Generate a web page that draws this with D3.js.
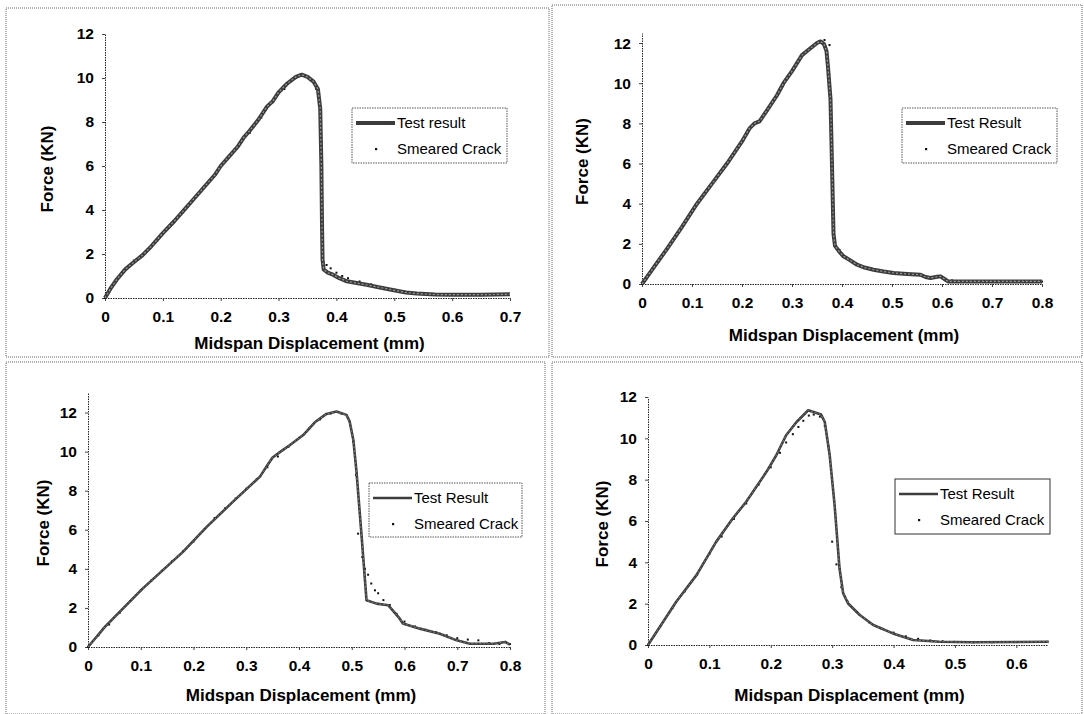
<!DOCTYPE html>
<html>
<head>
  <title>Force vs Midspan Displacement</title>
  <script src="https://cdnjs.cloudflare.com/ajax/libs/d3/7.8.5/d3.min.js"></script>
  <style>
    body {
        margin: 0;
        background: #ffffff;
        font-family: "Liberation Sans", Arial, sans-serif;
    }
    svg { display: block; }
    .tick text { font-weight: bold; font-size: 15.5px; fill: #000; }
    .axis-title { font-weight: bold; font-size: 17px; fill: #000; }
    .legend-text { font-size: 15px; fill: #000; }
  </style>
</head>
<body>
<div id="chart"></div>
<script>
// ---------------------------------------------------------------
// Data: [displacement (mm), force (KN)]
var test1 = [[0,0],[0.01,0.45],[0.02,0.83],[0.035,1.3],[0.048,1.59],[0.065,1.95],[0.08,2.35],
    [0.1,2.95],[0.12,3.5],[0.135,3.95],[0.15,4.4],[0.17,5.0],[0.19,5.6],[0.2,6.0],[0.215,6.45],
    [0.23,6.9],[0.24,7.3],[0.25,7.6],[0.265,8.1],[0.28,8.7],[0.29,8.95],[0.3,9.35],[0.315,9.75],
    [0.33,10.05],[0.34,10.15],[0.35,10.05],[0.36,9.85],[0.368,9.5],[0.372,8.6],[0.374,6.0],
    [0.375,3.5],[0.376,1.75],[0.378,1.3],[0.385,1.15],[0.394,1.06],[0.405,0.9],[0.418,0.76],
    [0.435,0.68],[0.452,0.6],[0.475,0.48],[0.504,0.33],[0.52,0.25],[0.539,0.2],[0.57,0.16],
    [0.596,0.15],[0.65,0.15],[0.7,0.17]];
var crack1 = [[0,0],[0.01,0.4],[0.02,0.8],[0.03,1.15],[0.04,1.45],[0.05,1.7],[0.07,2.1],[0.09,2.6],
    [0.11,3.2],[0.13,3.8],[0.15,4.4],[0.17,5.0],[0.19,5.6],[0.21,6.3],[0.23,6.9],[0.25,7.5],
    [0.27,8.2],[0.29,8.9],[0.31,9.5],[0.33,10.0],[0.345,10.1],[0.355,9.9],[0.365,9.5],[0.372,8.0],
    [0.374,5.0],[0.376,2.0],[0.383,1.5],[0.39,1.35],[0.40,1.15],[0.41,1.0],[0.42,0.9],[0.44,0.75],
    [0.46,0.62],[0.48,0.5],[0.50,0.38],[0.52,0.28],[0.54,0.22],[0.57,0.18],[0.60,0.16],[0.63,0.15],
    [0.66,0.15],[0.69,0.16]];

var test2 = [[0,0],[0.02,0.7],[0.05,1.75],[0.08,2.85],[0.11,4.0],[0.14,5.0],[0.17,6.0],[0.2,7.1],
    [0.215,7.75],[0.225,8.0],[0.235,8.1],[0.25,8.65],[0.27,9.4],[0.283,10.0],[0.3,10.6],[0.31,11.0],
    [0.32,11.4],[0.335,11.7],[0.35,12.0],[0.357,12.08],[0.364,11.95],[0.369,11.6],[0.372,10.8],
    [0.377,9.2],[0.38,5.9],[0.383,2.5],[0.386,1.9],[0.395,1.6],[0.403,1.38],[0.415,1.2],[0.43,0.96],
    [0.445,0.82],[0.463,0.71],[0.483,0.62],[0.503,0.55],[0.53,0.5],[0.557,0.46],[0.567,0.35],
    [0.577,0.3],[0.59,0.36],[0.597,0.38],[0.605,0.25],[0.612,0.13],[0.663,0.13],[0.73,0.13],[0.8,0.13]];
var crack2 = [[0,0],[0.02,0.7],[0.04,1.4],[0.06,2.1],[0.08,2.8],[0.10,3.6],[0.12,4.3],[0.14,5.0],
    [0.16,5.65],[0.18,6.35],[0.20,7.05],[0.22,7.9],[0.24,8.3],[0.26,9.0],[0.28,9.85],[0.30,10.6],
    [0.32,11.4],[0.34,11.85],[0.355,12.1],[0.365,12.15],[0.375,11.9],[0.378,9.0],[0.381,5.0],
    [0.385,2.2],[0.395,1.7],[0.41,1.3],[0.43,1.0],[0.45,0.82],[0.47,0.7],[0.50,0.58],[0.53,0.5],
    [0.56,0.42],[0.59,0.34],[0.62,0.18],[0.66,0.15],[0.70,0.14],[0.75,0.13],[0.80,0.12]];

var test3 = [[0,0],[0.032,1.03],[0.06,1.8],[0.104,3.0],[0.18,4.87],[0.225,6.15],[0.275,7.44],
    [0.326,8.72],[0.34,9.3],[0.35,9.7],[0.365,10.0],[0.383,10.34],[0.408,10.85],[0.43,11.5],
    [0.452,11.93],[0.471,12.05],[0.49,11.88],[0.496,11.54],[0.503,10.6],[0.509,8.97],[0.519,5.56],
    [0.528,2.39],[0.547,2.22],[0.569,2.14],[0.591,1.45],[0.597,1.2],[0.629,0.94],[0.667,0.68],
    [0.699,0.34],[0.724,0.17],[0.769,0.17],[0.791,0.26],[0.8,0.12]];
var crack3 = [[0,0],[0.02,0.6],[0.04,1.15],[0.06,1.75],[0.08,2.35],[0.10,2.9],[0.12,3.4],[0.14,3.9],
    [0.16,4.4],[0.18,4.9],[0.20,5.4],[0.22,6.0],[0.24,6.6],[0.26,7.1],[0.28,7.6],[0.30,8.1],
    [0.32,8.6],[0.34,9.2],[0.36,9.75],[0.38,10.25],[0.40,10.7],[0.42,11.2],[0.44,11.65],
    [0.46,11.95],[0.48,11.95],[0.495,11.6],[0.503,10.5],[0.508,8.8],[0.512,5.8],[0.52,4.6],
    [0.525,4.0],[0.531,3.7],[0.537,3.25],[0.544,2.9],[0.55,2.75],[0.56,2.4],[0.572,2.15],
    [0.585,1.7],[0.60,1.3],[0.62,1.05],[0.64,0.88],[0.66,0.75],[0.68,0.6],[0.70,0.45],[0.72,0.38],
    [0.74,0.34],[0.76,0.2],[0.78,0.15],[0.80,0.15]];

var test4 = [[0,0],[0.046,2.09],[0.079,3.38],[0.111,4.99],[0.138,6.12],[0.16,6.93],[0.193,8.38],
    [0.209,9.18],[0.225,10.15],[0.242,10.79],[0.261,11.36],[0.282,11.15],[0.288,10.79],[0.296,9.18],
    [0.304,6.77],[0.312,3.7],[0.318,2.5],[0.326,2.01],[0.345,1.45],[0.367,0.97],[0.399,0.56],
    [0.432,0.24],[0.475,0.16],[0.529,0.13],[0.653,0.16]];
var crack4 = [[0,0],[0.02,0.9],[0.04,1.8],[0.06,2.6],[0.08,3.4],[0.10,4.4],[0.12,5.25],[0.14,6.1],
    [0.16,6.85],[0.18,7.75],[0.20,8.6],[0.215,9.3],[0.225,9.8],[0.236,10.2],[0.245,10.55],[0.253,10.85],
    [0.262,11.1],[0.27,11.15],[0.28,11.05],[0.288,10.6],[0.294,9.6],[0.30,5.0],[0.307,3.9],
    [0.315,2.8],[0.325,2.1],[0.34,1.6],[0.36,1.1],[0.38,0.8],[0.40,0.6],[0.42,0.42],[0.44,0.3],
    [0.46,0.22],[0.48,0.18],[0.50,0.15],[0.53,0.13],[0.56,0.13],[0.60,0.14],[0.65,0.15]];

var xTicks1 = [0,0.1,0.2,0.3,0.4,0.5,0.6,0.7];
var xTicks2 = [0,0.1,0.2,0.3,0.4,0.5,0.6,0.7,0.8];
var xTicks4 = [0,0.1,0.2,0.3,0.4,0.5,0.6];
var yTicks  = [0,2,4,6,8,10,12];
var testNames = ["Test result", "Test Result", "Test Result", "Test Result"];
var crackName = "Smeared Crack";
var xTitle = "Midspan Displacement (mm)";
var yTitle = "Force (KN)";

//----------------------------------------
// Layout of the four panels (pixel boxes)
var panels = [
    {test: test1, crack: crack1, xMax: 0.7, yMax: 12, xTicks: xTicks1,
     frame: [6, 8, 549, 357], plot: [105, 34, 510, 298], lineW: 4,
     legend: [352, 108, 507, 163], legendSolid: false, yTitleX: 47, xTitleY: 343},
    {test: test2, crack: crack2, xMax: 0.8, yMax: 12.5, xTicks: xTicks2,
     frame: [552, 5, 1082, 357], plot: [642, 33, 1042, 284], lineW: 4,
     legend: [902, 108, 1057, 163], legendSolid: false, yTitleX: 582, xTitleY: 335},
    {test: test3, crack: crack3, xMax: 0.8, yMax: 13, xTicks: xTicks2,
     frame: [6, 362, 545, 714], plot: [88, 393, 510, 647], lineW: 2.6,
     legend: [369, 483, 522, 537], legendSolid: false, yTitleX: 43, xTitleY: 695},
    {test: test4, crack: crack4, xMax: 0.65, yMax: 12, xTicks: xTicks4,
     frame: [552, 362, 1082, 714], plot: [648, 397, 1047, 645], lineW: 2.6,
     legend: [895, 479, 1050, 534], legendSolid: true, yTitleX: 602, xTitleY: 695}
];

var width = 1084, height = 714;
var svg = d3.select('#chart').append('svg')
    .attr('width', width)
    .attr('height', height);

svg.append('rect').attr('width', width).attr('height', height).attr('fill', '#fff');

var fmt = function(d) { return d === 0 ? '0' : d.toFixed(1); };

panels.forEach(function(p, i) {
    var g = svg.append('g');

    // dotted frame around each chart
    g.append('rect')
        .attr('x', p.frame[0]).attr('y', p.frame[1])
        .attr('width', p.frame[2] - p.frame[0])
        .attr('height', p.frame[3] - p.frame[1])
        .attr('fill', 'none')
        .attr('stroke', '#666')
        .attr('stroke-width', 1)
        .attr('stroke-dasharray', '1,1');

    var x = d3.scaleLinear().domain([0, p.xMax]).range([p.plot[0], p.plot[2]]);
    var y = d3.scaleLinear().domain([0, p.yMax]).range([p.plot[3], p.plot[1]]);

    // axes
    var xAxis = g.append('g')
        .attr('transform', 'translate(0,' + p.plot[3] + ')')
        .call(d3.axisBottom(x).tickValues(p.xTicks).tickFormat(fmt)
              .tickSizeInner(3).tickSizeOuter(0).tickPadding(10));
    var yAxis = g.append('g')
        .attr('transform', 'translate(' + p.plot[0] + ',0)')
        .call(d3.axisLeft(y).tickValues(yTicks).tickSizeInner(3)
              .tickSizeOuter(0).tickPadding(8));
    [xAxis, yAxis].forEach(function(a) {
        a.select('.domain').attr('stroke', '#222').attr('stroke-dasharray', '1.5,1');
        a.selectAll('.tick line').attr('stroke', '#444');
        a.selectAll('.tick text').attr('font-family', '"Liberation Sans", Arial, sans-serif');
    });

    // axis titles
    g.append('text')
        .attr('class', 'axis-title')
        .attr('x', (p.plot[0] + p.plot[2]) / 2 + 2)
        .attr('y', p.xTitleY)
        .attr('dy', '0.35em')
        .attr('text-anchor', 'middle')
        .text(xTitle);
    g.append('text')
        .attr('class', 'axis-title')
        .attr('transform', 'translate(' + p.yTitleX + ',' + ((p.plot[1] + p.plot[3]) / 2 + 3) + ') rotate(-90)')
        .attr('dy', '0.35em')
        .attr('text-anchor', 'middle')
        .text(yTitle);

    // test result curve (thick, slightly textured)
    var line = d3.line()
        .x(function(d) { return x(d[0]); })
        .y(function(d) { return y(d[1]); });

    // smeared crack points under the line
    g.selectAll('.pt')
        .data(p.crack)
        .enter()
        .append('rect')
        .attr('class', 'pt')
        .attr('x', function(d) { return x(d[0]) - 1; })
        .attr('y', function(d) { return y(d[1]) - 1; })
        .attr('width', 2)
        .attr('height', 2)
        .attr('fill', '#111');

    g.append('path')
        .datum(p.test)
        .attr('d', line)
        .attr('fill', 'none')
        .attr('stroke', '#3c3c3c')
        .attr('stroke-width', p.lineW)
        .attr('stroke-linejoin', 'round');
    g.append('path')
        .datum(p.test)
        .attr('d', line)
        .attr('fill', 'none')
        .attr('stroke', '#9a9a9a')
        .attr('stroke-width', p.lineW > 3 ? 1.2 : 0.7)
        .attr('stroke-dasharray', '2,2');

    // legend
    var L = p.legend;
    g.append('rect')
        .attr('x', L[0]).attr('y', L[1])
        .attr('width', L[2] - L[0]).attr('height', L[3] - L[1])
        .attr('fill', '#fff')
        .attr('stroke', p.legendSolid ? '#333' : '#555')
        .attr('stroke-width', 1)
        .attr('stroke-dasharray', p.legendSolid ? null : '1.5,1');

    var row1 = L[1] + 15, row2 = L[1] + 41;
    g.append('line')
        .attr('x1', L[0] + 4).attr('x2', L[0] + 43)
        .attr('y1', row1).attr('y2', row1)
        .attr('stroke', '#3c3c3c')
        .attr('stroke-width', p.lineW);
    g.append('text')
        .attr('class', 'legend-text')
        .attr('x', L[0] + 45)
        .attr('y', row1)
        .attr('dy', '0.35em')
        .text(testNames[i]);
    g.append('rect')
        .attr('x', L[0] + 23).attr('y', row2 - 1)
        .attr('width', 2.2).attr('height', 2.2)
        .attr('fill', '#111');
    g.append('text')
        .attr('class', 'legend-text')
        .attr('x', L[0] + 45)
        .attr('y', row2)
        .attr('dy', '0.35em')
        .text(crackName);
});
</script>
</body>
</html>
